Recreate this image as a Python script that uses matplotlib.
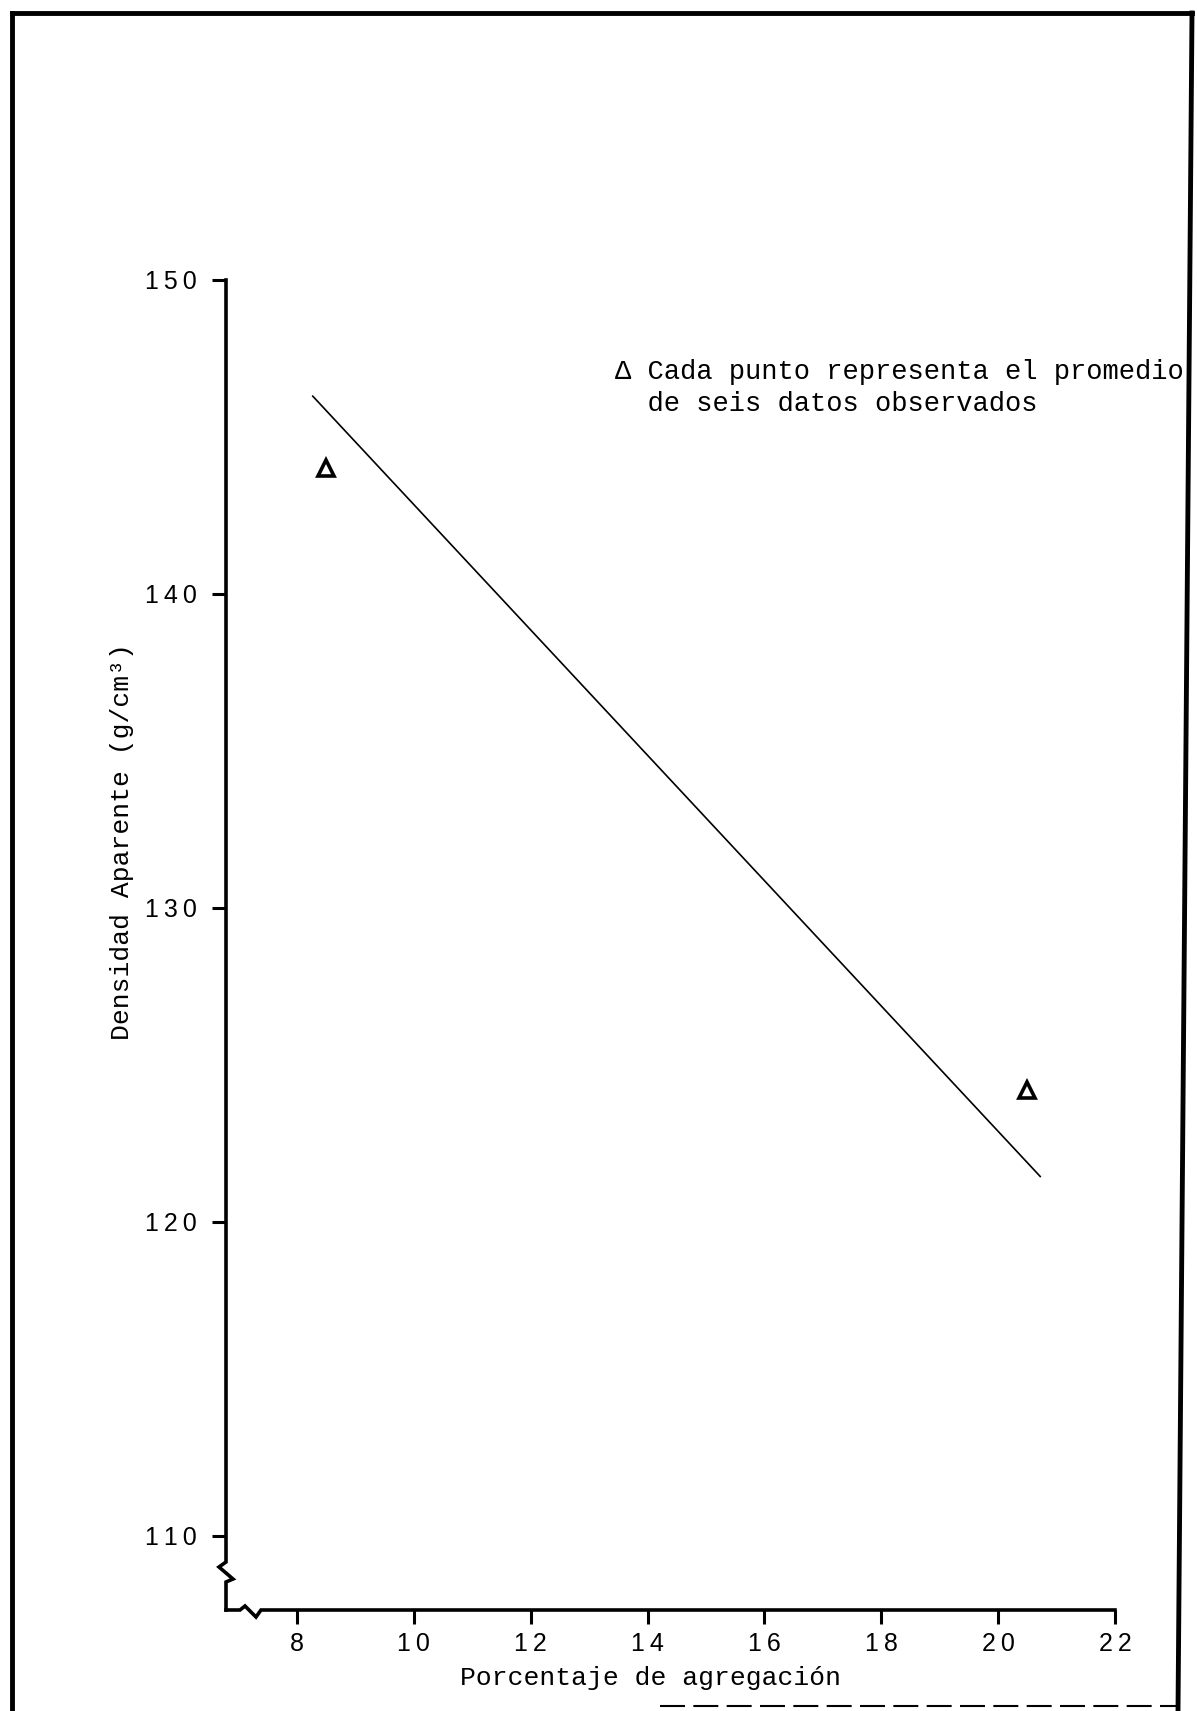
import matplotlib
matplotlib.use("Agg")
import matplotlib.pyplot as plt
from matplotlib.lines import Line2D

# ---- data ----
obs_x = [8.5, 20.5]
obs_y = [144.0, 124.2]
fit_x = [8.27, 20.72]
fit_y = [146.3, 121.45]
xticks = [8, 10, 12, 14, 16, 18, 20, 22]
yticks = [110, 120, 130, 140, 150]
xlabel = "Porcentaje de agregación"
ylabel = "Densidad Aparente (g/cm³)"
note = "Δ Cada punto representa el promedio\n  de seis datos observados"

W, H = 1197, 1711
fig = plt.figure(figsize=(W / 100, H / 100), dpi=100)

# axes placement in pixels
ax_left, ax_right = 226, 1115
ax_top, ax_bot = 280, 1610
ax = fig.add_axes([ax_left / W, (H - ax_bot) / H,
                   (ax_right - ax_left) / W, (ax_bot - ax_top) / H])
ax.set_xlim(8 - (297 - ax_left) / 58.43, 22)
ax.set_ylim(150 - (ax_bot - ax_top) / 31.4, 150)

for s in ax.spines.values():
    s.set_visible(False)

aw = ax_right - ax_left
ah = ax_bot - ax_top
def px(dx, dy):
    return dx / aw, dy / ah

# y axis with zigzag near bottom
yb = 40
ypts = [(0, 0), (0, yb - 12), (7, yb - 9), (-7, yb + 3), (0, yb + 8), (0, ah)]
ax.add_line(Line2D([px(a, b)[0] for a, b in ypts], [px(a, b)[1] for a, b in ypts],
                   transform=ax.transAxes, color="black", lw=2.6, clip_on=False,
                   solid_joinstyle="miter"))
# x axis with zigzag near left
xb = 22
xpts = [(0, 0), (xb - 8, 0), (xb - 3, 4), (xb + 8, -7), (xb + 13, 0), (aw, 0)]
ax.add_line(Line2D([px(a, b)[0] for a, b in xpts], [px(a, b)[1] for a, b in xpts],
                   transform=ax.transAxes, color="black", lw=2.6, clip_on=False,
                   solid_joinstyle="miter"))

def spaced(v):
    return "\u2009".join(str(v))

ax.set_xticks(xticks)
ax.set_yticks(yticks)
ax.set_xticklabels([spaced(v) for v in xticks])
ax.set_yticklabels([spaced(v) for v in yticks])
ax.tick_params(axis="both", direction="out", length=10, width=2.2, color="black")
ax.tick_params(axis="y", pad=11, labelsize=18)
ax.tick_params(axis="x", pad=6, labelsize=18)
for lab in ax.get_xticklabels() + ax.get_yticklabels():
    lab.set_family(["Liberation Sans", "DejaVu Sans"])

# fitted line and observations
ax.plot(fit_x, fit_y, color="black", lw=1.2, clip_on=False)
ax.plot(obs_x, obs_y, linestyle="none", marker="^", markersize=12,
        markerfacecolor="none", markeredgecolor="black", markeredgewidth=2.6,
        clip_on=False)

mono = ["Liberation Mono", "DejaVu Sans Mono"]
fig.text(651 / W, 1 - 1678 / H, xlabel, ha="center", va="center",
         fontsize=19, family=mono)
fig.text(122 / W, 1 - 842 / H, ylabel, ha="center", va="center",
         rotation=90, fontsize=19, family=mono)
fig.text(615 / W, 1 - 388 / H, note, ha="left", va="center",
         fontsize=19.5, family=mono, linespacing=1.3)

# scanned page frame
def fl(xs, ys, lw=3.5, **kw):
    fig.add_artist(Line2D([x / W for x in xs], [1 - y / H for y in ys],
                          color="black", lw=lw, transform=fig.transFigure, **kw))
fl([12, 12], [13, 1711])
fl([12, 1192], [13, 13])
fl([1192, 1178], [13, 1711])
fl([660, 1178], [1706, 1706], lw=1.5, linestyle=(0, (12, 4)))

fig.savefig("out.png", dpi=100)
